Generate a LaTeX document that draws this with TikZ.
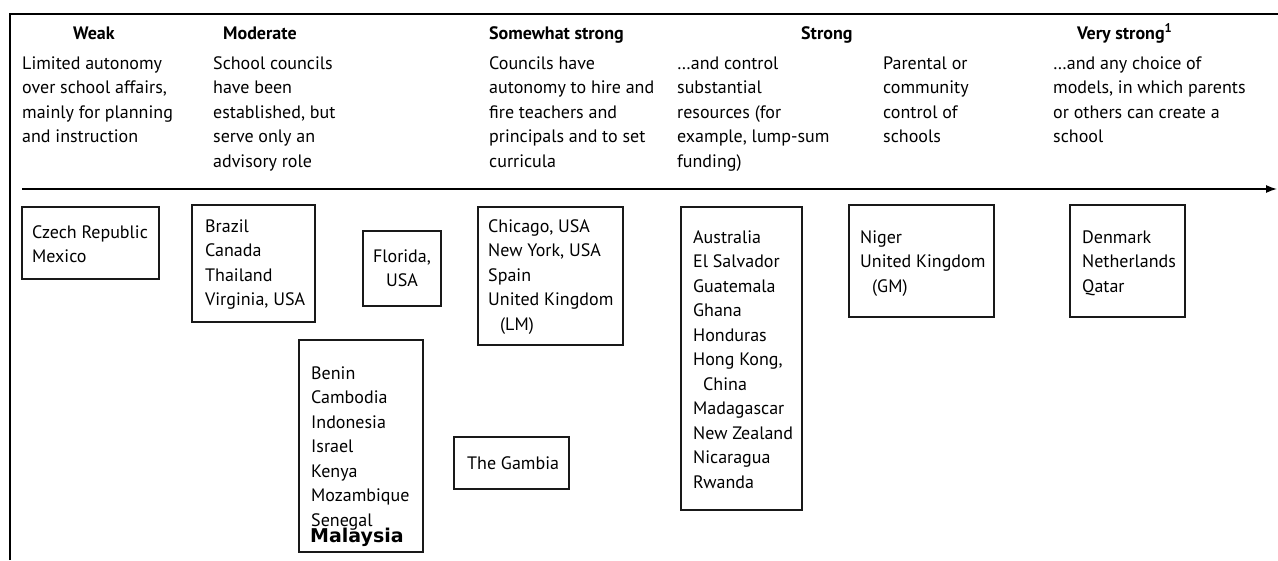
\documentclass[tikz,border=0pt]{standalone}
\usepackage{fontspec}
\setmainfont{PT Sans}
\newfontfamily\malfont{DejaVu Sans}
\usetikzlibrary{arrows.meta}
\newcommand\fs{\rule{0pt}{15pt}}
\tikzset{
  cbox/.style={draw=black!90, line width=1.4pt, inner sep=0pt, outer sep=0pt, rectangle},
  txt/.style={anchor=north west, align=left, inner sep=0pt, font=\fontsize{18}{24.5}\selectfont},
  ctxt/.style={anchor=north, align=center, inner sep=0pt, font=\fontsize{18}{24.5}\selectfont},
  btxt/.style={anchor=base west, inner sep=0pt, font=\fontsize{18}{24.5}\selectfont},
  hdr/.style={anchor=base west, inner sep=0pt, font=\fontsize{18}{22}\selectfont\bfseries},
  axisline/.style={line width=1.4pt, -{Latex[length=11pt,width=8pt]}},
  frameline/.style={line width=1.4pt}
}
\begin{document}
\begin{tikzpicture}[x=1pt,y=-1pt]
\useasboundingbox (0,0) rectangle (1278,560);
\draw[frameline] (10,560) -- (10,14) -- (1278,14);

% headers
\node[hdr] (hweak) at (73,39) {Weak};
\node[hdr] (hmod) at (223,39) {Moderate};
\node[hdr] (hsws) at (489,39) {Somewhat strong};
\node[hdr] (hstr) at (801,39) {Strong};
\node[hdr] (hvst) at (1077,39) {Very strong\textsuperscript{1}};

% descriptions
\node[txt] (dweak) at (22,54) {\fs Limited autonomy\\over school affairs,\\mainly for planning\\and instruction};
\node[txt] (dmod) at (213,54) {\fs School councils\\have been\\established, but\\serve only an\\advisory role};
\node[txt] (dsws) at (489,54) {\fs Councils have\\autonomy to hire and\\fire teachers and\\principals and to set\\curricula};
\node[txt] (dstr) at (677,54) {\fs …and control\\substantial\\resources (for\\example, lump-sum\\funding)};
\node[txt] (dpar) at (883,54) {\fs Parental or\\community\\control of\\schools};
\node[txt] (dvst) at (1053,54) {\fs …and any choice of\\models, in which parents\\or others can create a\\school};

% axis
\coordinate (axs) at (22,189);
\coordinate (axe) at (1277,189);
\draw[axisline] (axs) -- (axe);

% boxes
\node[cbox, minimum width=137, minimum height=72] (bcz) at (90.5,243) {};
\node[cbox, minimum width=123, minimum height=117] (bbr) at (253.5,263.5) {};
\node[cbox, minimum width=78, minimum height=75] (bfl) at (402,268.5) {};
\node[cbox, minimum width=124, minimum height=212] (bbe) at (361,446) {};
\node[cbox, minimum width=115, minimum height=52] (bga) at (511.5,463) {};
\node[cbox, minimum width=145, minimum height=138] (bch) at (550.5,276) {};
\node[cbox, minimum width=121, minimum height=303] (bau) at (741.5,358.5) {};
\node[cbox, minimum width=145, minimum height=112] (bni) at (921.5,261) {};
\node[cbox, minimum width=115, minimum height=112] (bde) at (1127.5,261) {};

% box texts
\node[txt] (tcz) at (32,223) {\fs Czech Republic\\Mexico};
\node[txt] (tbr) at (205,217) {\fs Brazil\\Canada\\Thailand\\Virginia, USA};
\node[ctxt] (tfl) at (402,247) {\fs Florida,\\USA};
\node[txt] (tbe) at (311,364) {\fs Benin\\Cambodia\\Indonesia\\Israel\\Kenya\\Mozambique\\Senegal};
\node[anchor=base west, inner sep=0pt, font={\malfont\fontsize{19}{22}\selectfont\bfseries}] (tma) at (310,542) {Malaysia};
\node[btxt] (tga) at (467,469) {The Gambia};
\node[txt] (tch) at (488,217) {\fs Chicago, USA\\New York, USA\\Spain\\United Kingdom\\\hspace*{12pt}(LM)};
\node[txt] (tau) at (693,228) {\fs Australia\\El Salvador\\Guatemala\\Ghana\\Honduras\\Hong Kong,\\\hspace*{10pt}China\\Madagascar\\New Zealand\\Nicaragua\\Rwanda};
\node[txt] (tni) at (860,228) {\fs Niger\\United Kingdom\\\hspace*{12pt}(GM)};
\node[txt] (tde) at (1082,228) {\fs Denmark\\Netherlands\\Qatar};
\end{tikzpicture}
\end{document}
